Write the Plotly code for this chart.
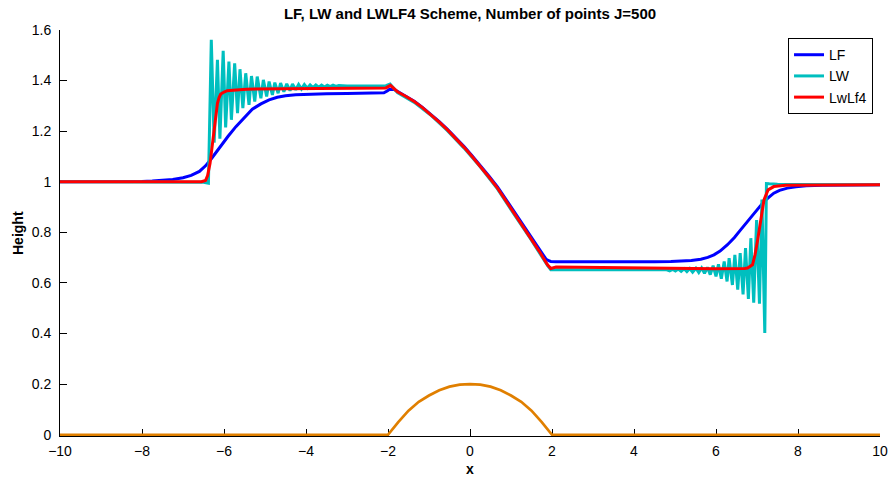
import plotly.graph_objects as go

# ---------------- data ----------------
lf_x = [-10, -8.5, -8.0, -7.75, -7.5, -7.25, -7.0, -6.8, -6.6, -6.45, -6.3, -6.12, -5.9, -5.71,
        -5.5, -5.31, -5.1, -4.9, -4.7, -4.5, -4.25, -4.01, -3.5, -3.0, -2.5, -2.1, -2.02, -1.96,
        -1.85, -1.77, -1.56, -1.36, -1.16, -0.96, -0.75, -0.55, -0.35, -0.15, 0.05, 0.26, 0.46,
        0.67, 0.87, 1.07, 1.28, 1.48, 1.67, 1.85, 1.92, 1.97, 2.1, 3.0, 4.0, 4.5, 4.9, 5.14, 5.4,
        5.63, 5.8, 5.95, 6.1, 6.28, 6.45, 6.6, 6.77, 6.93, 7.05, 7.17, 7.3, 7.41, 7.55, 7.74, 7.95,
        8.2, 8.6, 9.0, 10]
lf_y = [1.0, 1.0, 1.001, 1.003, 1.005, 1.009, 1.016, 1.025, 1.041, 1.063, 1.093, 1.133, 1.18,
        1.218, 1.255, 1.287, 1.308, 1.324, 1.334, 1.340, 1.344, 1.346, 1.348, 1.349, 1.351, 1.352,
        1.359, 1.366, 1.365, 1.357, 1.338, 1.318, 1.294, 1.268, 1.238, 1.207, 1.174, 1.140, 1.103,
        1.064, 1.023, 0.980, 0.932, 0.883, 0.834, 0.785, 0.738, 0.695, 0.688, 0.685, 0.684, 0.683,
        0.683, 0.684, 0.685, 0.686, 0.689, 0.694, 0.701, 0.711, 0.726, 0.751, 0.780, 0.810, 0.844,
        0.876, 0.900, 0.922, 0.940, 0.955, 0.966, 0.975, 0.980, 0.984, 0.986, 0.987, 0.988]

lw_x = [-10, -7.0, -6.5, -6.38, -6.31, -6.24, -6.16, -6.10, -6.02, -5.96, -5.88, -5.82, -5.74, -5.67,
        -5.61, -5.54, -5.47, -5.39, -5.33, -5.25, -5.19, -5.10, -5.04, -4.96, -4.90, -4.82, -4.76,
        -4.68, -4.62, -4.54, -4.47, -4.39, -4.33, -4.25, -4.18, -4.11, -4.04, -3.97, -3.90, -3.83,
        -3.76, -3.69, -3.62, -3.55, -3.48, -3.41, -3.34, -3.27, -3.20, -3.0, -2.5, -2.05, -1.95,
        -1.77, -1.36, -0.96, -0.55, -0.15, 0.26, 0.67, 1.07, 1.48, 1.89, 1.97, 2.5, 3.5, 4.5,
        4.80, 4.87, 4.94, 5.01, 5.08, 5.15, 5.22, 5.29, 5.36, 5.43, 5.51, 5.58, 5.65, 5.72, 5.79,
        5.86, 5.93, 6.00, 6.06, 6.13, 6.20, 6.27, 6.32, 6.40, 6.46, 6.53, 6.59, 6.66, 6.72, 6.79,
        6.85, 6.92, 6.99, 7.06, 7.12, 7.19, 7.23, 7.30, 7.50, 8.0, 10]
lw_y = [1.0, 1.0, 0.998, 0.994, 1.561, 1.155, 1.482, 1.170, 1.518, 1.215, 1.475, 1.245, 1.468, 1.271,
        1.445, 1.291, 1.429, 1.304, 1.418, 1.317, 1.416, 1.330, 1.403, 1.337, 1.396, 1.343, 1.392,
        1.350, 1.390, 1.356, 1.387, 1.360, 1.386, 1.364, 1.385, 1.367, 1.384, 1.370, 1.383, 1.372,
        1.383, 1.374, 1.382, 1.375, 1.382, 1.376, 1.382, 1.377, 1.381, 1.379, 1.380, 1.380, 1.386,
        1.353, 1.314, 1.264, 1.202, 1.134, 1.057, 0.972, 0.873, 0.774, 0.669, 0.652, 0.652, 0.651,
        0.650, 0.652, 0.648, 0.654, 0.647, 0.655, 0.646, 0.656, 0.645, 0.657, 0.643, 0.658, 0.641,
        0.659, 0.638, 0.662, 0.633, 0.668, 0.626, 0.674, 0.617, 0.685, 0.606, 0.698, 0.592, 0.711,
        0.574, 0.718, 0.555, 0.738, 0.537, 0.777, 0.522, 0.849, 0.518, 0.930, 0.402, 0.993, 0.992,
        0.990, 0.989, 0.988]

lwlf4_x = [-10, -7.0, -6.55, -6.45, -6.40, -6.34, -6.28, -6.24, -6.20, -6.16, -6.12, -6.08, -6.0,
           -5.92, -5.7, -5.45, -4.5, -3.0, -2.05, -1.94, -1.77, -1.56, -1.36, -1.16, -0.96, -0.75,
           -0.55, -0.35, -0.15, 0.05, 0.26, 0.46, 0.67, 0.87, 1.07, 1.28, 1.48, 1.69, 1.89, 1.97,
           2.1, 3.0, 4.0, 5.0, 6.0, 6.7, 6.77, 6.89, 6.95, 7.01, 7.09, 7.17, 7.27, 7.41, 7.7, 10]
lwlf4_y = [1.0, 1.0, 1.0, 1.005, 1.025, 1.073, 1.15, 1.218, 1.27, 1.310, 1.333, 1.347, 1.355,
           1.360, 1.363, 1.366, 1.368, 1.369, 1.371, 1.381, 1.356, 1.337, 1.317, 1.293, 1.267,
           1.236, 1.205, 1.172, 1.137, 1.100, 1.060, 1.019, 0.975, 0.927, 0.876, 0.826, 0.777,
           0.725, 0.672, 0.657, 0.663, 0.661, 0.659, 0.657, 0.656, 0.657, 0.659, 0.672, 0.710,
           0.764, 0.856, 0.928, 0.968, 0.981, 0.986, 0.988]

bump_x = [-10, -2.0, -1.75, -1.5, -1.25, -1.0, -0.75, -0.5, -0.25, 0.0, 0.25, 0.5, 0.75, 1.0,
          1.25, 1.5, 1.75, 2.0, 10]
bump_y = [0, 0, 0.05, 0.095, 0.13, 0.155, 0.176, 0.19, 0.198, 0.2, 0.198, 0.19, 0.176, 0.155,
          0.13, 0.095, 0.05, 0, 0]

x_ticks = [-10, -8, -6, -4, -2, 0, 2, 4, 6, 8, 10]
y_ticks = [0, 0.2, 0.4, 0.6, 0.8, 1.0, 1.2, 1.4, 1.6]
y_ticktext = ["0", "0.2", "0.4", "0.6", "0.8", "1", "1.2", "1.4", "1.6"]

# ---------------- figure ----------------
FONT = "Liberation Sans, Arial, Helvetica, sans-serif"

fig = go.Figure()
fig.add_trace(go.Scatter(x=lf_x, y=lf_y, mode="lines", name="LF",
                         line=dict(color="#0000FF", width=3)))
fig.add_trace(go.Scatter(x=lw_x, y=lw_y, mode="lines", name="LW",
                         line=dict(color="#00BFBF", width=3)))
fig.add_trace(go.Scatter(x=lwlf4_x, y=lwlf4_y, mode="lines", name="LwLf4",
                         line=dict(color="#FF0000", width=3)))
fig.add_trace(go.Scatter(x=bump_x, y=bump_y, mode="lines", showlegend=False,
                         line=dict(color="#E07F00", width=2.7)))

axis_common = dict(showgrid=False, zeroline=False, showline=True, linecolor="black",
                   linewidth=1, ticks="inside", tickcolor="black", ticklen=7,
                   tickfont=dict(family=FONT, size=14, color="black"), layer="below traces",
                   automargin=False)

fig.update_layout(
    width=891, height=478,
    margin=dict(l=60, r=11, t=30, b=42),
    paper_bgcolor="white", plot_bgcolor="white",
    font=dict(family=FONT, color="black"),
    title=dict(text="<b>LF, LW and LWLF4 Scheme, Number of points J=500</b>",
               x=0.5, xref="paper", xanchor="center", y=0.971, yanchor="middle",
               font=dict(family=FONT, size=15, color="black")),
    xaxis=dict(range=[-10, 10], tickmode="array", tickvals=x_ticks, ticklabelstandoff=2,
               **axis_common),
    yaxis=dict(range=[-0.005, 1.6], tickmode="array", tickvals=y_ticks, ticktext=y_ticktext,
               ticklabelstandoff=5, **axis_common),
    legend=dict(x=0.9915, y=0.98, xanchor="right", yanchor="top",
                bgcolor="white", bordercolor="black", borderwidth=1,
                entrywidth=62, entrywidthmode="pixels",
                font=dict(family=FONT, size=14, color="black"), tracegroupgap=0),
    showlegend=True,
    annotations=[
        dict(text="<b>x</b>", xref="paper", yref="paper", x=0.5, y=0, yshift=-33,
             xanchor="center", yanchor="middle", showarrow=False,
             font=dict(family=FONT, size=14, color="black")),
        dict(text="<b>Height</b>", xref="paper", yref="paper", x=0, y=0.5, xshift=-42,
             textangle=-90, xanchor="center", yanchor="middle", showarrow=False,
             font=dict(family=FONT, size=14, color="black")),
    ],
)

fig.write_html("out.html")
